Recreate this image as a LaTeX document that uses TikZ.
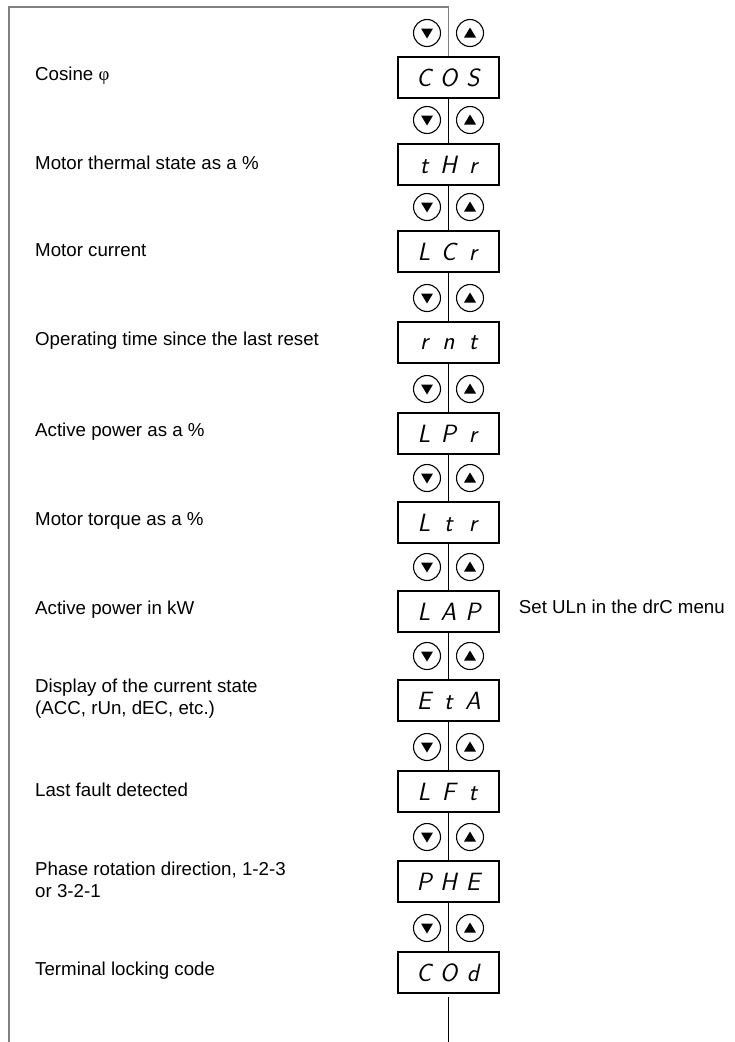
\documentclass[tikz,border=0pt]{standalone}
\usepackage{fontspec}
\setmainfont{Liberation Sans}
\newfontfamily\greekfont{Liberation Serif}
\usetikzlibrary{positioning}
\definecolor{framegray}{RGB}{128,128,128}
% three display digits, each in a fixed cell
\newcommand*{\segtext}[3]{\makebox[24.5pt]{#1}\makebox[24.5pt]{#2}\makebox[24.5pt]{#3}}
\tikzset{
  display/.style={draw,line width=2.5pt,minimum width=101pt,minimum height=41pt,inner sep=0pt,
    font=\fontsize{25}{25}\selectfont\sffamily\itshape},
  keybtn/.style={draw,circle,line width=1.1pt,minimum size=27pt,inner sep=0pt},
  link/.style={line width=1pt},
  frameline/.style={framegray,line width=1.5pt},
  label text/.style={anchor=west,align=left,inner sep=0pt,font=\fontsize{18.7}{22}\selectfont}
}

\begin{document}
\begin{tikzpicture}[x=1pt,y=-1pt]
  \useasboundingbox (0,0) rectangle (734,1042);

  % Displays, keys and labels
  \foreach \i/\yc/\a/\b/\c/\txt in {
      1/77.5/C/O/S/{Cosine {\greekfont φ}},
      2/164.5/t/H/r/{Motor thermal state as a \%},
      3/251.5/L/C/r/{Motor current},
      4/342.5/r/n/t/{Operating time since the last reset},
      5/433.5/L/P/r/{Active power as a \%},
      6/522.5/L/t/r/{Motor torque as a \%},
      7/611.5/L/A/P/{Active power in kW},
      8/700.5/E/t/A/{Display of the current state\\(ACC, rUn, dEC, etc.)},
      9/791.5/L/F/t/{Last fault detected},
      10/881.5/P/H/E/{Phase rotation direction, 1-2-3\\or 3-2-1},
      11/972.5/C/O/d/{Terminal locking code}}{
    \node[display] (box\i) at (448.5,\yc) {\segtext{\a}{\b}{\c}};
    \node[keybtn] (dn\i) at (427,\yc-44.5) {};
    \node[keybtn] (up\i) at (470,\yc-44.5) {};
    \fill[shift={(dn\i.center)}] (-6,-4.5) -- (6,-4.5) -- (0,5.5) -- cycle;
    \fill[shift={(up\i.center)}] (-6,4.5) -- (6,4.5) -- (0,-5.5) -- cycle;
    \node[label text] (txt\i) at (35,\yc-1.5) {\txt};
  }

  % Note beside LAP
  \node[label text, right=18.5pt of box7, yshift=5pt] (note) {Set ULn in the drC menu};

  % Vertical links
  \foreach \i [evaluate=\i as \j using int(\i+1)] in {1,...,10}
    \draw[link] (box\i.south) -- (box\j.north);

  % Frame
  \coordinate (frame bottom) at (9,1042);
  \coordinate (frame top) at (9,7);
  \draw[frameline] (frame bottom) -- (frame top) -| (box1.north);

  % Tail
  \coordinate (tail end) at (450,1042);
  \draw[link] ([yshift=-3pt]box11.south) -- (box11.south |- tail end);
\end{tikzpicture}
\end{document}
